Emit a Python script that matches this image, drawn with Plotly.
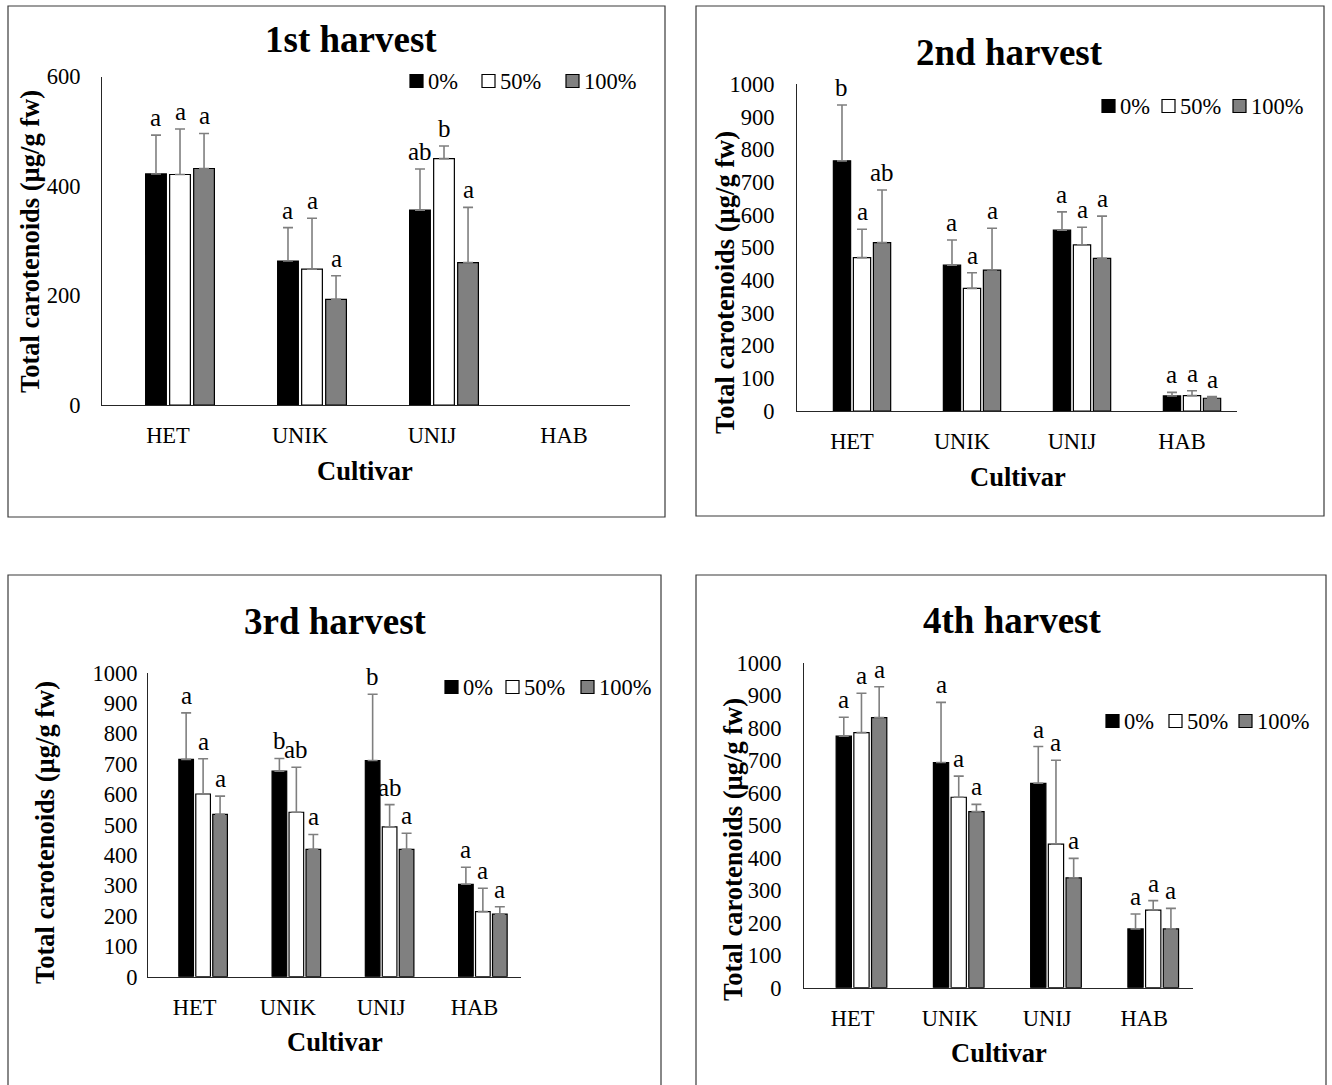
import plotly.graph_objects as go

W, H = 1332, 1085
FONT = "Liberation Serif"

categories = ["HET", "UNIK", "UNIJ", "HAB"]
series_names = ["0%", "50%", "100%"]
series_colors = ["#000000", "#ffffff", "#808080"]

# ---- 1st harvest (means and upper SD) ----
h1_mean_0 = [422, 263, 356, None]
h1_mean_50 = [421, 248, 450, None]
h1_mean_100 = [432, 193, 260, None]
h1_err_0 = [71, 61, 75, None]
h1_err_50 = [83, 93, 23, None]
h1_err_100 = [64, 43, 101, None]
h1_let_0 = ["a", "a", "ab", ""]
h1_let_50 = ["a", "a", "b", ""]
h1_let_100 = ["a", "a", "a", ""]

# ---- 2nd harvest ----
h2_mean_0 = [765, 446, 553, 46]
h2_mean_50 = [469, 375, 508, 47]
h2_mean_100 = [515, 431, 467, 39]
h2_err_0 = [171, 77, 56, 11]
h2_err_50 = [87, 48, 54, 15]
h2_err_100 = [161, 128, 129, 5]
h2_let_0 = ["b", "a", "a", "a"]
h2_let_50 = ["a", "a", "a", "a"]
h2_let_100 = ["ab", "a", "a", "a"]

# ---- 3rd harvest ----
h3_mean_0 = [715, 676, 711, 304]
h3_mean_50 = [601, 541, 493, 214]
h3_mean_100 = [534, 419, 419, 206]
h3_err_0 = [153, 42, 218, 56]
h3_err_50 = [116, 148, 73, 77]
h3_err_100 = [60, 49, 53, 24]
h3_let_0 = ["a", "b", "b", "a"]
h3_let_50 = ["a", "ab", "ab", "a"]
h3_let_100 = ["a", "a", "a", "a"]

# ---- 4th harvest ----
h4_mean_0 = [774, 693, 629, 181]
h4_mean_50 = [785, 586, 442, 239]
h4_mean_100 = [831, 542, 338, 181]
h4_err_0 = [58, 185, 113, 46]
h4_err_50 = [121, 65, 258, 29]
h4_err_100 = [95, 22, 60, 63]
h4_let_0 = ["a", "a", "a", "a"]
h4_let_50 = ["a", "a", "a", "a"]
h4_let_100 = ["a", "a", "a", "a"]

titles = ["1st harvest", "2nd harvest", "3rd harvest", "4th harvest"]
y_title = "Total carotenoids (µg/g fw)"
x_title = "Cultivar"

data = [
    ([h1_mean_0, h1_mean_50, h1_mean_100], [h1_err_0, h1_err_50, h1_err_100], [h1_let_0, h1_let_50, h1_let_100]),
    ([h2_mean_0, h2_mean_50, h2_mean_100], [h2_err_0, h2_err_50, h2_err_100], [h2_let_0, h2_let_50, h2_let_100]),
    ([h3_mean_0, h3_mean_50, h3_mean_100], [h3_err_0, h3_err_50, h3_err_100], [h3_let_0, h3_let_50, h3_let_100]),
    ([h4_mean_0, h4_mean_50, h4_mean_100], [h4_err_0, h4_err_50, h4_err_100], [h4_let_0, h4_let_50, h4_let_100]),
]

# ---- layout (pixel geometry) ----
panels = [
    dict(box=(8, 6, 665, 517), plot=(102, 630, 76.5, 405), ymax=600, dtick=200, ystand=16,
         title=(351, 39), ytit=(30, 242), xtit=(365, 471), leg_y=81, leg_x=(410, 482, 566)),
    dict(box=(696, 6, 1324, 516), plot=(797, 1237, 84, 411), ymax=1000, dtick=100, ystand=17,
         title=(1010, 52), ytit=(725, 283), xtit=(1018, 477), leg_y=106, leg_x=(1102, 1162, 1233)),
    dict(box=(8, 575, 661, 1095), plot=(148, 521, 672.7, 976.7), ymax=1000, dtick=100, ystand=5,
         title=(335, 621), ytit=(45, 833), xtit=(335, 1042), leg_y=687, leg_x=(445, 506, 581)),
    dict(box=(696, 575, 1326, 1095), plot=(804, 1193, 662.7, 987.7), ymax=1000, dtick=100, ystand=17,
         title=(1012, 620), ytit=(733, 850), xtit=(999, 1053), leg_y=721, leg_x=(1106, 1169, 1239)),
]

BAR_W = 0.157
SLOT = 0.182
centers = [-0.5 * SLOT, 0.5 * SLOT, 1.5 * SLOT]


def px(x):
    return x / W


def py(y):
    return 1 - y / H


fig = go.Figure()
annotations = []
shapes = []

for p, (panel, (means, errs, lets)) in enumerate(zip(panels, data)):
    sfx = "" if p == 0 else str(p + 1)
    xa, ya = "x" + sfx, "y" + sfx
    for s in range(3):
        fig.add_trace(go.Bar(
            x=categories, y=means[s], name=series_names[s],
            width=BAR_W, offset=centers[s] - BAR_W / 2,
            marker=dict(color=series_colors[s], line=dict(color="#000000", width=1.2)),
            error_y=dict(type="data", array=errs[s], arrayminus=[0] * len(categories),
                         symmetric=False, color="#7f7f7f", thickness=1.6, width=5),
            xaxis=xa, yaxis=ya, showlegend=False,
        ))
        for i, lt in enumerate(lets[s]):
            if lt and means[s][i] is not None:
                annotations.append(dict(
                    x=i + centers[s], y=means[s][i] + errs[s][i], xref=xa, yref=ya,
                    text=lt, showarrow=False, yanchor="bottom", yshift=2,
                    font=dict(family=FONT, size=25, color="#000000")))

    x0, x1, y0, y1 = panel["plot"]
    fig.update_layout(**{
        "xaxis" + sfx: dict(domain=[px(x0), px(x1)], anchor=ya, type="category",
                            showline=True, linecolor="#262626", linewidth=1.3,
                            ticks="", showgrid=False, zeroline=False, automargin=False,
                            tickfont=dict(family=FONT, size=22.5, color="#000000"),
                            ticklabelstandoff=10, fixedrange=True),
        "yaxis" + sfx: dict(domain=[py(y1), py(y0)], anchor=xa, range=[0, panel["ymax"]],
                            tickmode="linear", tick0=0, dtick=panel["dtick"],
                            showline=True, linecolor="#262626", linewidth=1,
                            ticks="", showgrid=False, zeroline=False, automargin=False,
                            tickfont=dict(family=FONT, size=22.5, color="#000000"),
                            ticklabelstandoff=panel["ystand"], fixedrange=True),
    })

    bx0, by0, bx1, by1 = panel["box"]
    shapes.append(dict(type="rect", xref="paper", yref="paper",
                       x0=px(bx0), x1=px(bx1), y0=py(by1), y1=py(by0),
                       line=dict(color="#3a3a3a", width=1.2), fillcolor="rgba(0,0,0,0)", layer="below"))

    tx, ty = panel["title"]
    annotations.append(dict(x=px(tx), y=py(ty), xref="paper", yref="paper", text=titles[p],
                            showarrow=False, xanchor="center", yanchor="middle",
                            font=dict(family=FONT, size=37, color="#000000", weight="bold")))
    yx, yy = panel["ytit"]
    annotations.append(dict(x=px(yx), y=py(yy), xref="paper", yref="paper", text=y_title,
                            showarrow=False, textangle=-90, xanchor="center", yanchor="middle",
                            font=dict(family=FONT, size=26.5, color="#000000", weight="bold")))
    cx, cy = panel["xtit"]
    annotations.append(dict(x=px(cx), y=py(cy), xref="paper", yref="paper", text=x_title,
                            showarrow=False, xanchor="center", yanchor="middle",
                            font=dict(family=FONT, size=26.5, color="#000000", weight="bold")))

    # legend: swatch + label per series
    ly = panel["leg_y"]
    for s in range(3):
        lx = panel["leg_x"][s]
        shapes.append(dict(type="rect", xref="paper", yref="paper",
                           x0=px(lx), x1=px(lx + 13), y0=py(ly + 6.5), y1=py(ly - 6.5),
                           line=dict(color="#000000", width=1.2), fillcolor=series_colors[s]))
        annotations.append(dict(x=px(lx + 16), y=py(ly), xref="paper", yref="paper",
                                text=series_names[s], showarrow=False, xanchor="left", yanchor="middle",
                                font=dict(family=FONT, size=22.5, color="#000000")))

fig.update_layout(
    template="none",
    width=W, height=H, margin=dict(l=0, r=0, t=0, b=0, pad=0, autoexpand=False),
    paper_bgcolor="#ffffff", plot_bgcolor="#ffffff",
    barmode="group", showlegend=False,
    annotations=annotations, shapes=shapes,
    font=dict(family=FONT, color="#000000"),
)

fig.write_html("out.html", config={"displayModeBar": False},
               post_script="document.body.style.margin='0';document.body.style.overflow='hidden';")
